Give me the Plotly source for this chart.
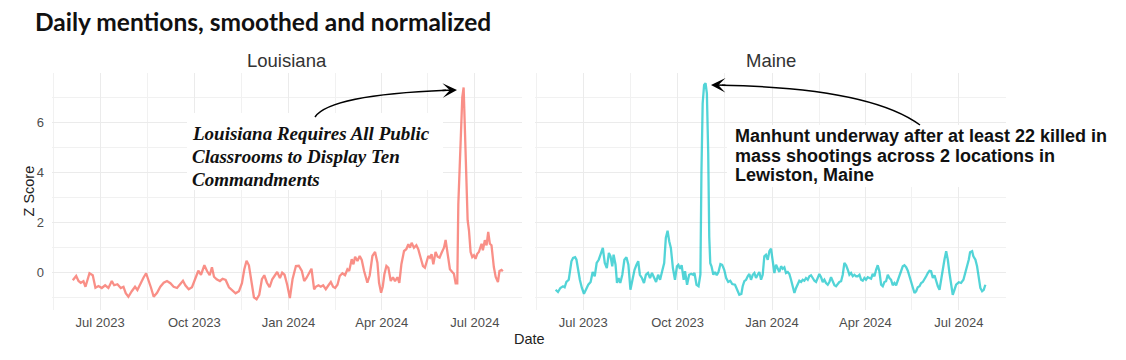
import plotly.graph_objects as go
import pandas as pd

# ---------------- data (days since 2023-07-01, z score) ----------------
BASE_DATE = "2023-07-01"

la_days = [-26.7, -23.4, -21.1, -18.9, -16.3, -14.3, -10.4, -7.2, -4.6, -1.6,
           1.6, 4.9, 8.1, 11.4, 13.7, 16.9, 20.2, 22.8, 25.0, 27.6,
           30.9, 34.1, 36.4, 39.7, 42.3, 44.9, 47.5, 49.7, 52.3, 55.6,
           58.8, 62.1, 65.3, 68.6, 71.8, 75.1, 78.3, 80.9, 83.2, 86.5,
           89.7, 93.0, 95.9, 98.5, 101.8, 104.4, 107.0, 109.2, 111.2, 113.8,
           117.0, 119.6, 122.6, 125.8, 129.1, 132.3, 135.6, 138.5, 140.8, 143.0,
           145.3, 147.6, 150.2, 152.8, 155.4, 158.0, 160.3, 162.9, 165.5, 168.1,
           170.7, 172.9, 175.6, 177.8, 180.1, 182.7, 185.3, 187.9, 191.2, 194.0,
           197.0, 199.3, 201.5, 203.5, 206.4, 209.0, 210.6, 213.2, 215.5, 217.8,
           220.4, 223.0, 225.3, 227.5, 229.5, 231.8, 234.0, 236.6, 239.2, 241.5,
           243.2, 245.7, 247.4, 249.0, 251.3, 253.5, 255.5, 257.8, 261.0, 263.3,
           265.9, 268.5, 270.8, 272.4, 274.4, 276.0, 277.6, 279.6, 281.5, 283.8,
           286.0, 288.0, 290.3, 292.2, 294.2, 296.8, 299.0, 301.0, 302.6, 304.2,
           306.5, 308.8, 310.7, 313.0, 315.3, 317.2, 318.9, 320.5, 322.1, 323.7,
           325.4, 327.6, 329.6, 331.5, 333.5, 335.8, 337.4, 339.7, 341.6, 343.9,
           345.5, 347.2, 348.8, 349.8, 351.1, 352.4, 353.7, 355.0, 356.3, 357.6,
           358.9, 360.2, 361.8, 363.4, 365.0, 366.6, 368.3, 369.9, 372.5, 373.8,
           375.7, 377.4, 379.0, 380.6, 382.2, 384.5, 386.3, 388.5, 390.0, 392.0,
           393.3]
la_z = [-0.33, -0.16, -0.36, -0.43, -0.37, -0.59, -0.05, -0.13, -0.63, -0.56,
        -0.64, -0.53, -0.64, -0.36, -0.53, -0.49, -0.64, -0.59, -0.85, -0.99,
        -0.77, -0.59, -0.72, -0.43, -0.23, -0.05, -0.32, -0.63, -0.99, -0.83,
        -0.59, -0.43, -0.36, -0.45, -0.59, -0.64, -0.48, -0.35, -0.53, -0.69,
        -0.61, -0.23, 0.05, -0.11, 0.27, 0.04, -0.13, 0.19, -0.19, -0.29,
        -0.36, -0.27, -0.32, -0.61, -0.72, -0.85, -0.77, -0.45, 0.11, 0.45,
        0.27, -0.36, -1.01, -1.09, -0.91, -0.29, -0.13, -0.43, -0.61, -0.29,
        -0.11, 0.0, -0.24, -0.03, -0.11, -0.51, -1.04, -0.29, 0.24, 0.25,
        0.04, -0.36, -0.24, -0.09, 0.13, -0.69, -0.59, -0.53, -0.59, -0.53,
        -0.69, -0.53, -0.40, -0.59, -0.64, -0.51, -0.16, -0.05, -0.13, 0.11,
        0.04, 0.51, 0.31, 0.61, 0.44, 0.64, 0.48, 0.04, -0.43, -0.13,
        0.64, 0.80, 0.37, -0.43, -0.83, -0.59, -0.09, 0.24, 0.17, -0.36,
        -0.21, -0.37, -0.21, -0.43, 0.31, 0.84, 0.91, 1.11, 0.97, 1.17,
        0.97, 1.07, 0.91, 0.57, 0.24, 0.17, 0.44, 0.64, 0.57, 0.71,
        0.31, 0.80, 0.61, 0.57, 0.77, 0.97, 1.28, 0.71, 0.11, 0.0,
        -0.07, -0.45, -0.45, 2.7, 4.1, 5.4, 7.0, 7.38, 5.4, 3.4,
        2.07, 1.67, 0.8, 0.6, 0.67, 0.53, 0.73, 0.8, 1.13, 0.87,
        1.27, 1.07, 1.6, 1.13, 1.07, 0.2, -0.2, -0.4, 0.04, 0.08,
        0.03]

me_days = [-26.9, -24.6, -22.3, -19.7, -18.1, -16.4, -14.1, -11.5, -9.9, -7.9,
           -6.6, -4.9, -3.3, -1.3, 0.7, 2.6, 4.9, 7.2, 9.2, 11.2,
           13.1, 15.1, 17.1, 19.1, 21.0, 23.0, 25.0, 26.6, 28.3, 29.6,
           31.5, 32.9, 34.5, 36.1, 38.1, 40.1, 42.1, 44.0, 46.0, 48.0,
           50.0, 51.9, 53.6, 55.2, 57.2, 59.2, 61.1, 63.1, 65.1, 67.0,
           69.0, 71.0, 73.0, 74.9, 76.9, 78.9, 80.5, 82.2, 83.8, 85.4,
           87.4, 89.4, 91.3, 92.7, 94.3, 95.9, 97.9, 99.2, 101.2, 103.2,
           105.2, 107.1, 108.4, 110.4, 112.4, 114.2, 115.2, 116.4, 117.8, 119.2,
           120.5, 121.8, 122.8, 123.8, 125.0, 126.8, 128.5, 130.1, 131.8, 133.7,
           135.4, 137.4, 139.3, 141.3, 143.3, 145.2, 147.9, 150.5, 152.1, 154.1,
           155.4, 157.0, 158.7, 160.3, 161.9, 163.5, 165.2, 166.8, 168.4, 170.0,
           171.6, 173.3, 174.9, 176.5, 178.1, 179.8, 181.4, 183.0, 184.6, 186.3,
           187.9, 189.5, 191.1, 192.8, 194.4, 196.0, 197.6, 199.3, 200.9, 202.5,
           204.1, 205.8, 207.4, 209.0, 210.6, 212.3, 213.9, 215.5, 217.1, 218.8,
           220.4, 222.0, 223.6, 225.3, 226.9, 228.5, 230.1, 231.8, 233.4, 235.0,
           236.6, 238.3, 239.9, 241.5, 243.1, 244.8, 246.4, 248.0, 249.6, 251.3,
           252.9, 254.5, 256.2, 257.8, 259.4, 261.0, 262.7, 264.3, 265.9, 267.5,
           269.2, 270.8, 272.4, 274.0, 275.6, 277.3, 278.9, 280.5, 282.1, 283.8,
           285.4, 287.0, 288.6, 290.3, 291.9, 293.5, 295.1, 296.8, 298.4, 300.0,
           301.6, 303.3, 304.9, 306.5, 308.1, 309.8, 311.4, 313.0, 314.7, 316.3,
           317.9, 319.5, 321.2, 322.8, 324.4, 326.0, 327.7, 329.3, 330.9, 332.5,
           334.2, 335.8, 337.4, 339.0, 340.7, 342.3, 343.9, 345.6, 347.2, 348.8,
           350.4, 352.0, 353.7, 355.3, 356.9, 358.5, 360.1, 361.8, 363.4, 366.0,
           368.2, 370.5, 372.5, 374.1, 375.7, 377.0, 379.0, 380.2, 382.2, 383.8,
           385.4, 387.0, 388.7, 390.3, 391.9]
me_z = [-0.71, -0.80, -0.64, -0.57, -0.61, -0.40, -0.31, 0.43, 0.56, 0.59,
        0.49, 0.03, -0.31, -0.64, -0.87, -0.71, -0.51, -0.40, 0.0, -0.17,
        0.36, 0.49, 0.69, 0.96, 0.36, 0.16, 0.76, 0.63, 0.23, 0.69,
        0.29, -0.44, -0.24, -0.44, -0.11, 0.49, 0.59, 0.29, -0.71, -0.24,
        0.09, 0.29, 0.43, -0.11, -0.24, -0.44, -0.11, -0.04, -0.24, -0.04,
        -0.24, -0.40, -0.11, -0.31, 0.03, 0.36, 1.36, 1.65, 1.23, 0.96,
        0.16, -0.31, 0.23, 0.29, 0.13, 0.27, -0.31, 0.03, -0.51, -0.11,
        -0.07, -0.11, -0.04, -0.51, -0.57, -0.10, 4.0, 6.75, 7.48, 7.55,
        7.15, 4.75, 1.41, 0.35, 0.23, -0.11, 0.0, -0.13, 0.0, 0.32,
        0.29, 0.09, -0.24, -0.40, -0.35, -0.48, -0.51, -0.72, -0.91, -0.88,
        -0.57, -0.37, -0.31, -0.17, -0.08, -0.31, -0.11, -0.04, -0.24, -0.11,
        0.0, -0.31, -0.11, 0.63, 0.69, 0.49, 0.83, 0.93, 0.49, -0.04,
        0.29, 0.16, 0.0, 0.23, 0.13, 0.19, -0.04, 0.0, -0.08, -0.31,
        -0.57, -0.84, -0.64, -0.48, -0.35, -0.40, -0.31, -0.35, -0.24, -0.31,
        -0.17, -0.13, -0.24, -0.35, -0.40, -0.24, -0.08, -0.21, -0.40, -0.31,
        -0.44, -0.51, -0.40, -0.21, -0.35, -0.53, -0.57, -0.48, -0.40, -0.37,
        -0.11, 0.36, 0.27, 0.09, -0.11, -0.04, -0.17, -0.11, -0.17, -0.17,
        -0.11, -0.31, -0.35, -0.24, -0.31, -0.21, -0.24, -0.27, -0.08, -0.17,
        0.09, 0.27, 0.03, -0.51, -0.57, -0.40, -0.37, -0.11, -0.24, -0.31,
        -0.53, -0.44, -0.53, -0.35, -0.11, 0.09, 0.23, 0.27, 0.19, 0.05,
        -0.17, -0.44, -0.67, -0.84, -0.77, -0.61, -0.57, -0.44, -0.40, -0.31,
        -0.17, -0.04, 0.05, 0.03, -0.24, -0.13, -0.37, -0.57, -0.71, -0.31,
        0.23, 0.49, 0.83, 0.49, -0.04, -0.57, -0.91, -0.71, -0.51, -0.41,
        -0.44, -0.31, -0.04, 0.23, 0.49, 0.79, 0.83, 0.63, 0.49, 0.23,
        -0.31, -0.64, -0.77, -0.71, -0.51]

panel_titles = ["Louisiana", "Maine"]
title_text = "Daily mentions, smoothed and normalized"
la_headline = ["Louisiana Requires All Public", "Classrooms to Display Ten", "Commandments"]
me_headline = ["Manhunt underway after at least 22 killed in",
               "mass shootings across 2 locations in", "Lewiston, Maine"]
y_tick_vals = [0, 2, 4, 6]

# ---------------- layout geometry ----------------
# The page body adds an 8px offset, so the figure is 8px smaller and all
# positions below are given in reference-image pixels.
OFF = 8
W, H = 1126 - OFF, 360 - OFF
PL, PR, PT, PB = 52, 1006, 73, 310          # plot area in reference pixels
PW, PH = PR - PL, PB - PT
ML, MT = PL - OFF, PT - OFF
MR, MB = W - (PR - OFF), H - (PB - OFF)


def px(x):
    return (x - PL) / PW


def py(y):
    return (PB - y) / PH


SANS = "Liberation Sans, Arial, Helvetica, sans-serif"
SERIF = "Liberation Serif, Times New Roman, serif"

base = pd.Timestamp(BASE_DATE)
la_x = base + pd.to_timedelta(la_days, unit="D")
me_x = base + pd.to_timedelta(me_days, unit="D")

fig = go.Figure()
fig.add_trace(go.Scatter(x=la_x, y=la_z, mode="lines", name="Louisiana",
                         line=dict(color="rgba(248,118,109,0.82)", width=2.3),
                         xaxis="x", yaxis="y", showlegend=False, hoverinfo="skip"))
fig.add_trace(go.Scatter(x=me_x, y=me_z, mode="lines", name="Maine",
                         line=dict(color="rgba(0,191,196,0.68)", width=2.3),
                         xaxis="x2", yaxis="y2", showlegend=False, hoverinfo="skip"))

GRID = "#EBEBEB"
xcommon = dict(range=["2023-05-15", "2024-08-16"], type="date",
               tick0=BASE_DATE, dtick="M3", tickformat="%b %Y",
               showgrid=True, gridcolor=GRID, gridwidth=1.1,
               ticks="", showline=False, zeroline=False, ticklabelstandoff=3,
               tickfont=dict(family=SANS, size=13, color="#4D4D4D"),
               minor=dict(tick0="2023-05-16", dtick="M3", showgrid=True,
                          gridcolor="#F1F1F1", gridwidth=0.8, ticks=""))
ycommon = dict(range=[-1.52, 7.96], tickvals=y_tick_vals,
               showgrid=True, gridcolor=GRID, gridwidth=1.1,
               ticks="", showline=False, zeroline=False,
               minor=dict(dtick=1, showgrid=True, gridcolor="#F1F1F1", gridwidth=0.8, ticks=""))

d1 = [0, 470 / PW]
d2 = [483 / PW, 1]

fig.update_layout(
    width=W, height=H,
    margin=dict(l=ML, r=MR, t=MT, b=MB, pad=0),
    paper_bgcolor="white", plot_bgcolor="white",
    xaxis=dict(domain=d1, anchor="y", **xcommon),
    xaxis2=dict(domain=d2, anchor="y2", **xcommon),
    yaxis=dict(domain=[0, 1], anchor="x", ticklabelstandoff=7,
               tickfont=dict(family=SANS, size=13, color="#4D4D4D"), **ycommon),
    yaxis2=dict(domain=[0, 1], anchor="x2", matches="y", showticklabels=False, **ycommon),
    showlegend=False,
)

ann = []
# title
ann.append(dict(text="<b>" + title_text + "</b>", xref="paper", yref="paper",
                x=px(33), y=py(22), xanchor="left", yanchor="middle", showarrow=False,
                font=dict(family="Lato, sans-serif", size=24.5, color="#111111")))
# panel titles
for t, cx in zip(panel_titles, [287, 770.5]):
    ann.append(dict(text=t, xref="paper", yref="paper", x=px(cx), y=py(61),
                    xanchor="center", yanchor="middle", showarrow=False,
                    font=dict(family=SANS, size=18.5, color="#333333")))
# axis titles
ann.append(dict(text="Z Score", xref="paper", yref="paper", x=px(28), y=0.5,
                textangle=-90, xanchor="center", yanchor="middle", showarrow=False,
                font=dict(family=SANS, size=14.5, color="#222222")))
ann.append(dict(text="Date", xref="paper", yref="paper", x=px(529), y=py(339),
                xanchor="center", yanchor="middle", showarrow=False,
                font=dict(family=SANS, size=14.5, color="#222222")))
# Louisiana headline
for i, line in enumerate(la_headline):
    ann.append(dict(text="<b><i>" + line + "</i></b>", xref="paper", yref="paper",
                    x=px(190), y=py(133 + 23 * i), xanchor="left", yanchor="middle",
                    showarrow=False, font=dict(family=SERIF, size=19, color="#111111")))
# Maine headline
for i, line in enumerate(me_headline):
    ann.append(dict(text="<b>" + line + "</b>", xref="paper", yref="paper",
                    x=px(733), y=py(136 + 19.6 * i), xanchor="left", yanchor="middle",
                    showarrow=False, font=dict(family=SANS, size=18, color="#111111")))
# arrowheads
ann.append(dict(text="", xref="paper", yref="paper", x=px(457), y=py(90),
                ax=-16, ay=0.5, showarrow=True, arrowhead=3, arrowsize=1.6,
                arrowwidth=1.5, arrowcolor="black", standoff=0))
ann.append(dict(text="", xref="paper", yref="paper", x=px(711), y=py(85),
                ax=16, ay=0.3, showarrow=True, arrowhead=3, arrowsize=1.6,
                arrowwidth=1.5, arrowcolor="black", standoff=0))

shapes = [
    dict(type="rect", xref="paper", yref="paper", x0=px(187), x1=px(443),
         y0=py(190), y1=py(113), fillcolor="white", line=dict(width=0), layer="above"),
    dict(type="rect", xref="paper", yref="paper", x0=px(727), x1=px(1110),
         y0=py(187), y1=py(125), fillcolor="white", line=dict(width=0), layer="above"),
    dict(type="path", xref="paper", yref="paper",
         path=f"M {px(315)},{py(117)} Q {px(330)},{py(95)} {px(446)},{py(90.3)}",
         line=dict(color="black", width=1.5), layer="above"),
    dict(type="path", xref="paper", yref="paper",
         path=f"M {px(920)},{py(125)} Q {px(870)},{py(88)} {px(722)},{py(85.2)}",
         line=dict(color="black", width=1.5), layer="above"),
]

fig.update_layout(annotations=ann, shapes=shapes)
fig.write_html("out.html")
